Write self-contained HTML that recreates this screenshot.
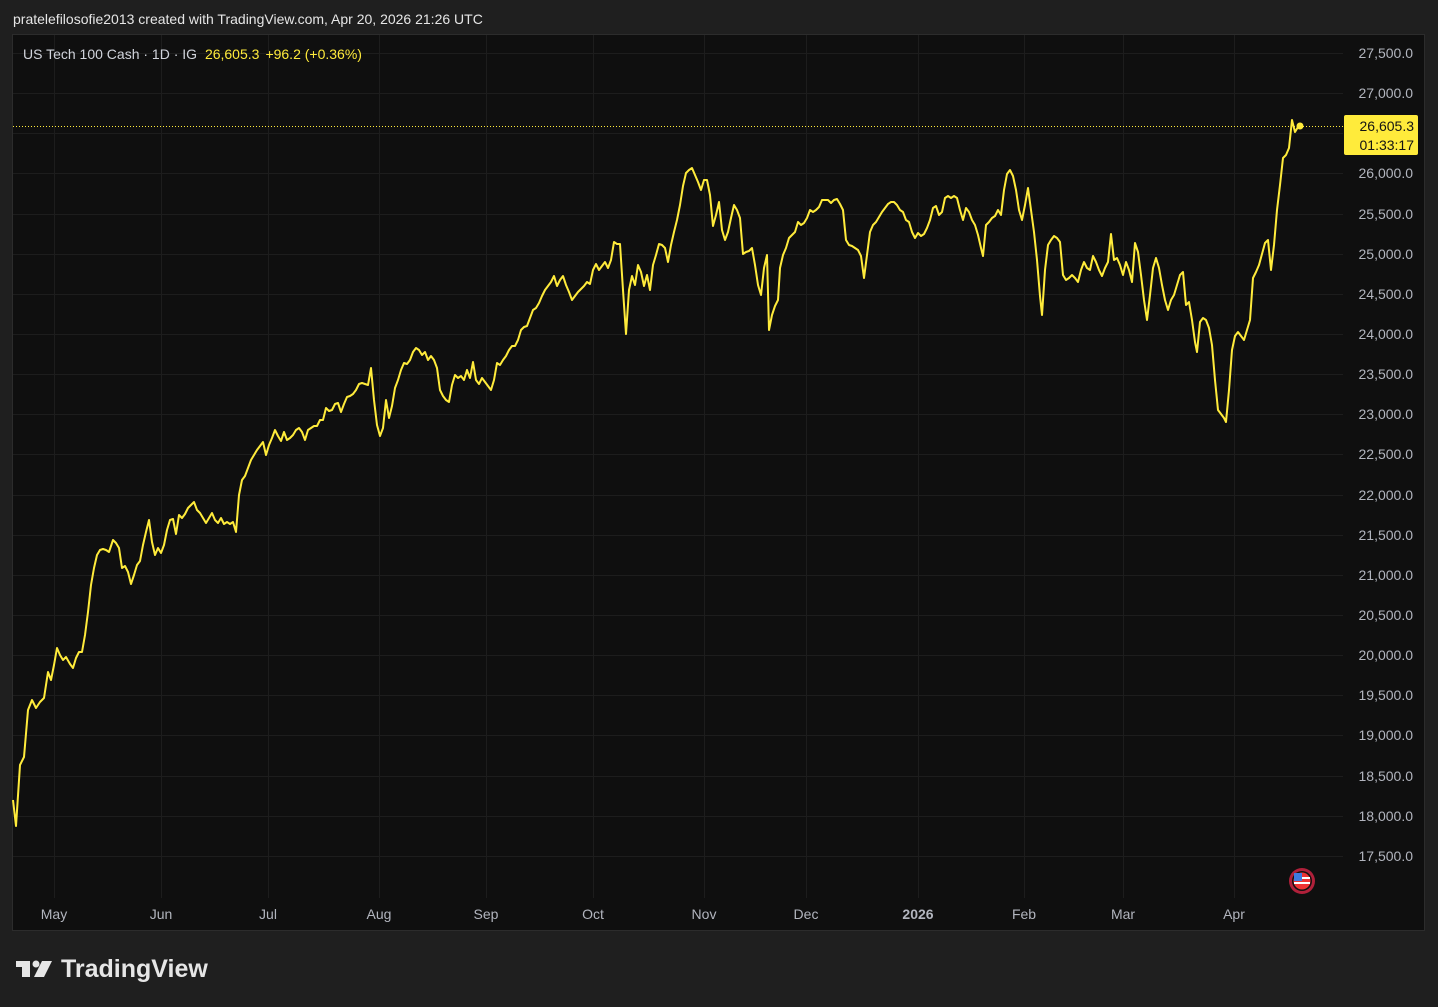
<!DOCTYPE html>
<html><head><meta charset="utf-8"><style>
html,body{margin:0;padding:0;background:#1f1f1f;width:1438px;height:1007px;overflow:hidden}
svg{display:block}
text{font-family:"Liberation Sans",sans-serif}
</style></head><body>
<svg width="1438" height="1007" viewBox="0 0 1438 1007">
<rect width="1438" height="1007" fill="#1f1f1f"/>
<text x="13" y="24" fill="#e6e6e6" font-size="14">pratelefilosofie2013 created with TradingView.com, Apr 20, 2026 21:26 UTC</text>
<rect x="12.5" y="34.5" width="1412" height="896" fill="#0f0f0f" stroke="#2c2c2c"/>
<g stroke="#1d1d1d" stroke-width="1">
<line x1="13" x2="1343" y1="53.5" y2="53.5"/><line x1="13" x2="1343" y1="93.5" y2="93.5"/><line x1="13" x2="1343" y1="133.5" y2="133.5"/><line x1="13" x2="1343" y1="173.5" y2="173.5"/><line x1="13" x2="1343" y1="214.5" y2="214.5"/><line x1="13" x2="1343" y1="254.5" y2="254.5"/><line x1="13" x2="1343" y1="294.5" y2="294.5"/><line x1="13" x2="1343" y1="334.5" y2="334.5"/><line x1="13" x2="1343" y1="374.5" y2="374.5"/><line x1="13" x2="1343" y1="414.5" y2="414.5"/><line x1="13" x2="1343" y1="454.5" y2="454.5"/><line x1="13" x2="1343" y1="495.5" y2="495.5"/><line x1="13" x2="1343" y1="535.5" y2="535.5"/><line x1="13" x2="1343" y1="575.5" y2="575.5"/><line x1="13" x2="1343" y1="615.5" y2="615.5"/><line x1="13" x2="1343" y1="655.5" y2="655.5"/><line x1="13" x2="1343" y1="695.5" y2="695.5"/><line x1="13" x2="1343" y1="735.5" y2="735.5"/><line x1="13" x2="1343" y1="776.5" y2="776.5"/><line x1="13" x2="1343" y1="816.5" y2="816.5"/><line x1="13" x2="1343" y1="856.5" y2="856.5"/>
<line x1="54.5" x2="54.5" y1="35" y2="898"/><line x1="161.5" x2="161.5" y1="35" y2="898"/><line x1="268.5" x2="268.5" y1="35" y2="898"/><line x1="379.5" x2="379.5" y1="35" y2="898"/><line x1="486.5" x2="486.5" y1="35" y2="898"/><line x1="593.5" x2="593.5" y1="35" y2="898"/><line x1="704.5" x2="704.5" y1="35" y2="898"/><line x1="806.5" x2="806.5" y1="35" y2="898"/><line x1="918.5" x2="918.5" y1="35" y2="898"/><line x1="1024.5" x2="1024.5" y1="35" y2="898"/><line x1="1123.5" x2="1123.5" y1="35" y2="898"/><line x1="1234.5" x2="1234.5" y1="35" y2="898"/>
</g>
<g fill="#b2b5be" font-size="14" text-anchor="end">
<text x="1413" y="58">27,500.0</text><text x="1413" y="98">27,000.0</text><text x="1413" y="178">26,000.0</text><text x="1413" y="219">25,500.0</text><text x="1413" y="259">25,000.0</text><text x="1413" y="299">24,500.0</text><text x="1413" y="339">24,000.0</text><text x="1413" y="379">23,500.0</text><text x="1413" y="419">23,000.0</text><text x="1413" y="459">22,500.0</text><text x="1413" y="500">22,000.0</text><text x="1413" y="540">21,500.0</text><text x="1413" y="580">21,000.0</text><text x="1413" y="620">20,500.0</text><text x="1413" y="660">20,000.0</text><text x="1413" y="700">19,500.0</text><text x="1413" y="740">19,000.0</text><text x="1413" y="781">18,500.0</text><text x="1413" y="821">18,000.0</text><text x="1413" y="861">17,500.0</text>
</g>
<g fill="#b2b5be" font-size="14" text-anchor="middle">
<text x="54" y="919">May</text><text x="161" y="919">Jun</text><text x="268" y="919">Jul</text><text x="379" y="919">Aug</text><text x="486" y="919">Sep</text><text x="593" y="919">Oct</text><text x="704" y="919">Nov</text><text x="806" y="919">Dec</text><text x="918" y="919" font-weight="bold">2026</text><text x="1024" y="919">Feb</text><text x="1123" y="919">Mar</text><text x="1234" y="919">Apr</text>
</g>
<text x="23" y="59" font-size="14" fill="#d1d4dc">US Tech 100 Cash · 1D · IG <tspan fill="#ffeb3b" dx="4">26,605.3</tspan><tspan fill="#ffeb3b" dx="6">+96.2 (+0.36%)</tspan></text>
<line x1="13" x2="1343" y1="126.5" y2="126.5" stroke="#ffeb3b" stroke-dasharray="1,2"/>
<polyline fill="none" stroke="#ffeb3b" stroke-width="2" stroke-linejoin="round" points="13,800 16,826 20,765 24,757 28,710 32,700 36,708 40,702 44,698 48,672 51,680 54,665 57,648 60,655 63,660 66,657 70,664 73,668 76,658 79,652 82,652 85,635 88,612 91,585 94,568 97,555 100,550 103,549 106,550 109,552 113,540 116,543 119,548 122,568 125,566 128,572 131,584 134,575 137,565 140,561 143,545 146,532 149,520 152,542 155,555 158,548 161,553 164,545 167,530 170,520 173,519 176,534 179,515 182,518 185,514 188,508 191,505 194,502 197,510 200,513 203,518 206,523 209,518 212,513 215,520 218,523 221,518 224,524 227,522 230,524 233,522 236,532 239,495 242,480 245,476 248,468 251,460 254,455 257,450 260,446 263,442 266,455 269,445 272,438 275,430 278,436 281,441 284,432 287,440 290,438 293,435 296,430 299,428 302,432 305,440 308,430 311,428 314,426 317,426 320,420 323,420 326,408 329,411 332,410 335,404 338,403 341,412 344,404 347,397 350,396 353,394 356,390 359,384 362,383 365,384 368,385 371,368 374,400 377,425 380,436 383,428 386,400 389,418 392,406 395,388 398,380 401,370 404,363 407,364 410,360 413,352 416,348 419,350 422,355 425,352 428,360 431,356 434,360 437,368 440,390 443,396 446,400 449,402 452,385 455,375 458,378 461,376 464,380 467,370 470,378 473,362 476,380 479,384 482,378 485,382 488,386 491,390 494,380 497,363 500,365 503,360 506,356 509,350 512,346 515,346 518,340 521,330 524,327 527,326 530,318 533,310 536,308 539,303 542,296 545,290 548,286 551,282 554,276 557,286 560,280 563,276 566,285 569,292 572,300 575,296 578,292 581,289 584,286 587,282 590,284 593,270 596,264 599,270 602,266 605,262 608,268 611,260 614,242 617,244 620,244 623,290 626,334 629,290 632,276 635,285 638,265 641,272 644,286 647,275 650,290 653,265 656,255 659,244 662,245 665,248 668,262 671,245 674,232 677,220 680,205 683,186 686,173 689,170 692,168 695,175 698,182 701,190 704,180 707,180 710,195 713,226 716,215 719,202 722,230 725,240 728,232 731,218 734,205 737,210 740,218 743,254 746,252 749,251 752,248 755,265 758,285 761,295 764,268 767,255 769,330 772,315 775,306 778,300 780,268 783,255 786,248 789,238 792,235 795,232 798,222 801,225 804,223 807,218 810,210 813,212 816,210 819,207 822,200 825,200 828,200 831,203 834,200 837,199 840,204 843,210 846,240 849,245 852,246 855,248 858,250 861,256 864,278 867,255 870,232 873,225 876,222 879,217 882,212 885,208 888,204 891,202 894,202 897,205 900,210 903,212 906,220 909,222 912,232 915,238 918,233 921,236 924,234 927,228 930,220 933,208 936,206 939,215 942,212 945,198 948,196 951,198 954,196 957,198 960,210 963,220 966,208 969,212 972,220 975,225 978,235 981,248 983,256 986,225 989,222 992,218 995,216 998,210 1001,215 1004,190 1007,174 1010,170 1013,176 1016,190 1019,210 1022,220 1025,205 1028,188 1031,210 1034,232 1037,260 1040,296 1042,315 1045,270 1048,245 1051,240 1054,236 1057,238 1060,242 1063,275 1066,280 1069,278 1072,275 1075,278 1078,282 1081,270 1084,262 1087,268 1090,270 1093,256 1096,262 1099,270 1102,276 1105,268 1108,262 1111,234 1114,260 1117,258 1120,265 1123,275 1126,262 1129,270 1132,282 1135,243 1138,252 1141,275 1144,300 1147,320 1150,295 1153,268 1156,258 1159,268 1162,285 1165,300 1168,310 1171,300 1174,295 1177,285 1180,275 1183,272 1186,305 1189,302 1192,320 1195,342 1197,352 1200,322 1203,318 1206,320 1209,328 1212,345 1215,380 1218,410 1221,414 1224,418 1226,422 1229,390 1232,350 1235,336 1238,332 1241,336 1244,340 1247,330 1250,320 1253,278 1256,272 1259,265 1262,254 1265,243 1268,240 1271,270 1274,245 1277,210 1280,185 1283,158 1286,155 1289,148 1292,120 1295,132 1298,127 1300,126"/>
<circle cx="1300" cy="126" r="3.5" fill="#ffeb3b"/>
<rect x="1344" y="115" width="74" height="40" rx="2" fill="#ffeb3b"/>
<text x="1414" y="131" font-size="14" fill="#131313" text-anchor="end">26,605.3</text>
<text x="1414" y="150" font-size="14" fill="#131313" text-anchor="end">01:33:17</text>
<circle cx="1302" cy="881" r="13" fill="#b0203a"/>
<circle cx="1302" cy="881" r="10" fill="#111"/>
<circle cx="1302" cy="881" r="8.5" fill="#e33"/>
<rect x="1294" y="877" width="16" height="2" fill="#fff"/><rect x="1294" y="882" width="16" height="2" fill="#fff"/>
<rect x="1294" y="873" width="8" height="8" fill="#3d7be0"/>
<g fill="#e6e6e6">
<rect x="16" y="961" width="14" height="6"/><rect x="22" y="961" width="8" height="16"/>
<circle cx="36" cy="964" r="3.5"/>
<polygon points="42,961 52,961 44,977 34,977"/>
</g>
<text x="61" y="977" font-size="25" font-weight="bold" fill="#e6e6e6">TradingView</text>
</svg>
</body></html>
